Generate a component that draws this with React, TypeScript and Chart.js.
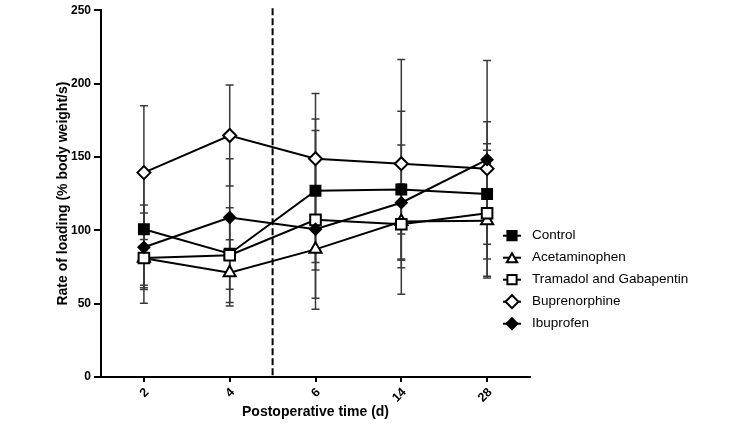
import React, { useEffect, useRef } from "react";
import { Chart, registerables } from "chart.js";

Chart.register(...registerables);

const timeLabels = ["2", "4", "6", "14", "28"];
const yTicks = [0, 50, 100, 150, 200, 250];

const controlMean = [100.7, 84, 126.9, 127.8, 124.7];
const controlSd = [38.2, 24.2, 48.9, 30.4, 34.2];
const acetMean = [81, 71, 87, 106, 106.5];
const acetSd = [30.8, 22.6, 14, 25.5, 39];
const tramMean = [81.1, 83, 107.1, 104.1, 111.6];
const tramSd = [20.2, 32.3, 60.9, 24.5, 43];
const bupMean = [139.3, 164.6, 148.8, 145.4, 142];
const bupSd = [45.6, 34.4, 44.4, 71, 32];
const ibuMean = [88.4, 108.7, 100.7, 118.8, 148.1];
const ibuSd = [28.8, 40.1, 47, 62.4, 67.6];

const seriesNames = ["Control", "Acetaminophen", "Tramadol and Gabapentin", "Buprenorphine", "Ibuprofen"];

const FONT = "'Liberation Sans', Arial, sans-serif";

function drawMarker(ctx: CanvasRenderingContext2D, style: string, x: number, y: number, r: number, fill: string) {
  ctx.beginPath();
  if (style === "rect") {
    const s = r * Math.SQRT1_2;
    ctx.rect(x - s, y - s, 2 * s, 2 * s);
  } else if (style === "triangle") {
    const cy = y + r * 0.25;
    ctx.moveTo(x, cy - r);
    ctx.lineTo(x + r * Math.sin((2 * Math.PI) / 3), cy - r * Math.cos((2 * Math.PI) / 3));
    ctx.lineTo(x + r * Math.sin((4 * Math.PI) / 3), cy - r * Math.cos((4 * Math.PI) / 3));
    ctx.closePath();
  } else {
    ctx.moveTo(x - r, y);
    ctx.lineTo(x, y - r);
    ctx.lineTo(x + r, y);
    ctx.lineTo(x, y + r);
    ctx.closePath();
  }
  ctx.fillStyle = fill;
  ctx.fill();
  ctx.lineWidth = 2;
  ctx.strokeStyle = "#000";
  ctx.stroke();
}

const errorBarPlugin = {
  id: "errorBars",
  beforeDatasetsDraw(chart: any) {
    const { ctx, chartArea } = chart;
    const xs = chart.scales.x;
    const ys = chart.scales.y;
    // dashed separator between day 4 and day 6
    const xm = (xs.getPixelForValue(1) + xs.getPixelForValue(2)) / 2;
    ctx.save();
    ctx.setLineDash([7, 3]);
    ctx.lineWidth = 2;
    ctx.strokeStyle = "#000";
    ctx.beginPath();
    ctx.moveTo(xm, chartArea.top - 2);
    ctx.lineTo(xm, chartArea.bottom);
    ctx.stroke();
    ctx.setLineDash([]);
    ctx.strokeStyle = "#3a3a3a";
    ctx.lineWidth = 1.5;
    chart.data.datasets.forEach((ds: any, i: number) => {
      const meta = chart.getDatasetMeta(i);
      meta.data.forEach((pt: any, j: number) => {
        const v = ds.data[j];
        const sd = ds.sd[j];
        const x = pt.x;
        const yt = ys.getPixelForValue(v + sd);
        const yb = ys.getPixelForValue(v - sd);
        ctx.beginPath();
        ctx.moveTo(x, yt);
        ctx.lineTo(x, yb);
        ctx.moveTo(x - 4, yt);
        ctx.lineTo(x + 4, yt);
        ctx.moveTo(x - 4, yb);
        ctx.lineTo(x + 4, yb);
        ctx.stroke();
      });
    });
    ctx.restore();
  },
};

const legendPlugin = {
  id: "customLegend",
  afterDraw(chart: any) {
    const { ctx, chartArea } = chart;
    ctx.save();
    const x0 = chartArea.right - 27;
    const x1 = chartArea.right - 9;
    const mx = (x0 + x1) / 2;
    const yStart = chartArea.top + 225.5;
    const step = 22;
    ctx.font = `13.5px ${FONT}`;
    ctx.textBaseline = "middle";
    ctx.textAlign = "left";
    chart.data.datasets.forEach((ds: any, i: number) => {
      const y = yStart + i * step;
      ctx.beginPath();
      ctx.lineWidth = 2;
      ctx.strokeStyle = "#000";
      ctx.moveTo(x0, y);
      ctx.lineTo(x1, y);
      ctx.stroke();
      const r = ds.pointStyle === "rect" ? 6.5 : ds.pointStyle === "triangle" ? 6 : ds.pointBackgroundColor === "#000" ? 5.5 : 6.5;
      drawMarker(ctx, ds.pointStyle, mx, y, r, ds.pointBackgroundColor);
      ctx.fillStyle = "#000";
      ctx.fillText(ds.label, chartArea.right + 2, y);
    });
    ctx.restore();
  },
};

function makeDataset(label: string, data: number[], sd: number[], style: string, fill: string, radius: number, order: number) {
  return {
    label,
    data,
    sd,
    order,
    borderColor: "#000",
    borderWidth: 2,
    backgroundColor: fill,
    pointStyle: style,
    pointRadius: radius,
    pointBackgroundColor: fill,
    pointBorderColor: "#000",
    pointBorderWidth: 2,
    fill: false,
    tension: 0,
  };
}

export default function App() {
  const ref = useRef<HTMLCanvasElement | null>(null);
  useEffect(() => {
    if (!ref.current) return;
    const chart = new Chart(ref.current, {
      type: "line",
      data: {
        labels: timeLabels,
        datasets: [
          makeDataset(seriesNames[0], controlMean, controlSd, "rect", "#000", 7, 5),
          makeDataset(seriesNames[1], acetMean, acetSd, "triangle", "#fff", 7, 4),
          makeDataset(seriesNames[2], tramMean, tramSd, "rect", "#fff", 7.5, 3),
          makeDataset(seriesNames[3], bupMean, bupSd, "rectRot", "#fff", 6.5, 2),
          makeDataset(seriesNames[4], ibuMean, ibuSd, "rectRot", "#000", 5.5, 1),
        ] as any,
      },
      options: {
        responsive: false,
        animation: false,
        events: [],
        layout: { padding: { left: 0, top: 7, right: 215, bottom: 0 } },
        plugins: {
          legend: { display: false },
          tooltip: { enabled: false },
        },
        scales: {
          x: {
            type: "category",
            offset: true,
            afterFit(scale: any) {
              scale.height = 47;
            },
            grid: {
              display: true,
              offset: false,
              drawOnChartArea: false,
              drawTicks: true,
              tickLength: 5,
              color: "#000",
              lineWidth: 2,
            },
            border: { display: true, color: "#000", width: 2 },
            ticks: {
              color: "#000",
              font: { family: FONT, size: 12.5, weight: "bold" },
              minRotation: 45,
              maxRotation: 45,
              autoSkip: false,
              padding: 3,
              labelOffset: 3,
            },
            title: {
              display: true,
              text: "Postoperative time (d)",
              color: "#000",
              font: { family: FONT, size: 14, weight: "bold" },
              padding: { top: 0, bottom: 3 },
            },
          },
          y: {
            min: 0,
            max: 250,
            afterFit(scale: any) {
              scale.width = 101;
            },
            afterBuildTicks(scale: any) {
              scale.ticks = yTicks.map((v) => ({ value: v }));
            },
            grid: {
              display: true,
              drawOnChartArea: false,
              drawTicks: true,
              tickLength: 7,
              color: "#000",
              lineWidth: 2,
            },
            border: { display: true, color: "#000", width: 2 },
            ticks: {
              color: "#000",
              font: { family: FONT, size: 12, weight: "bold" },
              padding: 3,
            },
            title: {
              display: true,
              text: "Rate of loading (% body weight/s)",
              color: "#000",
              font: { family: FONT, size: 14, weight: "bold" },
              padding: { top: 55, bottom: 0 },
            },
          },
        },
      } as any,
      plugins: [errorBarPlugin, legendPlugin],
    });
    return () => chart.destroy();
  }, []);
  return (
    <div style={{ position: "absolute", left: 0, top: 0, width: 745, height: 424, background: "#fff" }}>
      <canvas ref={ref} width={745} height={424} style={{ display: "block" }} />
    </div>
  );
}
